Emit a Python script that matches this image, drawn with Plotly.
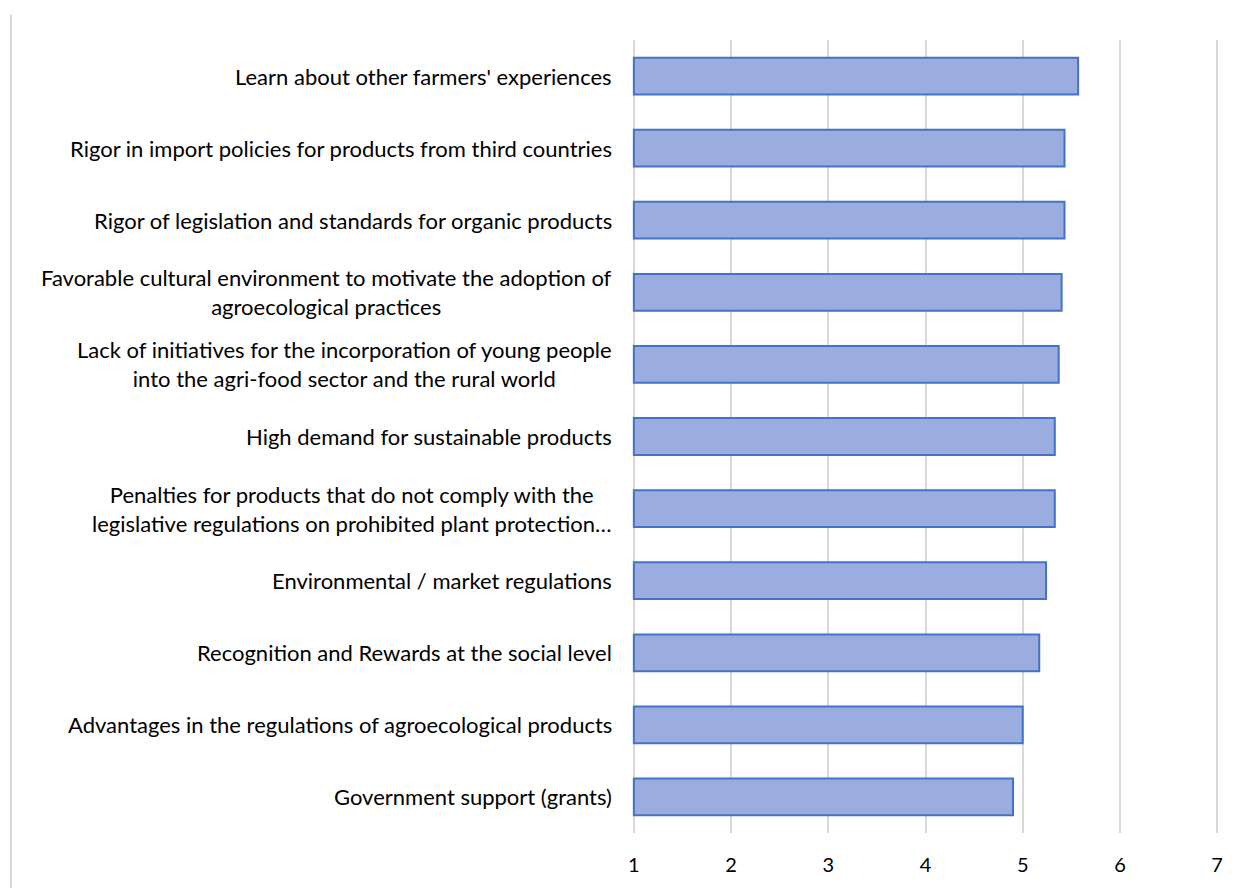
import plotly.graph_objects as go

categories = [
    "Learn about other farmers' experiences",
    "Rigor in import policies for products from third countries",
    "Rigor of legislation and standards for organic products",
    "Favorable cultural environment to motivate the adoption of<br>agroecological practices",
    "Lack of initiatives for the incorporation of young people<br>into the agri-food sector and the rural world",
    "High demand for sustainable products",
    "Penalties for products that do not comply with the<br>legislative regulations on prohibited plant protection…",
    "Environmental / market regulations",
    "Recognition and Rewards at the social level",
    "Advantages in the regulations of agroecological products",
    "Government support (grants)",
]
values = [5.57, 5.43, 5.43, 5.40, 5.37, 5.33, 5.33, 5.24, 5.17, 5.00, 4.90]
x_ticks = [1, 2, 3, 4, 5, 6, 7]

FONT = "Lato, 'Open Sans', sans-serif"
ypos = list(range(len(categories)))

fig = go.Figure()
fig.add_trace(go.Bar(
    y=ypos, x=[v - 1 for v in values], base=1, orientation="h",
    marker=dict(color="#9badde", line=dict(color="#4472c4", width=2)),
    width=0.51,
))

for i, c in enumerate(categories):
    fig.add_annotation(
        x=1, xref="x", y=i, yref="y", text=c, showarrow=False,
        xanchor="right", yanchor="middle", align="center", xshift=-20,
        font=dict(family=FONT, size=22, color="#000000"),
    )

L, R = 629, 1222
fig.add_shape(type="line", xref="paper", yref="paper",
              x0=(11 - L) / (R - L), x1=(11 - L) / (R - L), y0=1.032, y1=-0.07,
              line=dict(color="#d9d9d9", width=2))

fig.update_layout(
    width=1242, height=888,
    margin=dict(l=L, r=1242 - R, t=40, b=50),
    paper_bgcolor="white", plot_bgcolor="white",
    showlegend=False, bargap=0.49,
    font=dict(family=FONT, size=20, color="#000000"),
    xaxis=dict(range=[0.95, 7.05], tickvals=x_ticks, showgrid=True,
               gridcolor="#d9d9d9", gridwidth=1.5, zeroline=False,
               showline=False, ticks="", tickfont=dict(size=20),
               ticklabelstandoff=18),
    yaxis=dict(range=[len(categories) - 0.5, -0.5], showticklabels=False,
               showgrid=False, zeroline=False, showline=False, ticks=""),
)

fig.write_html("out.html")
